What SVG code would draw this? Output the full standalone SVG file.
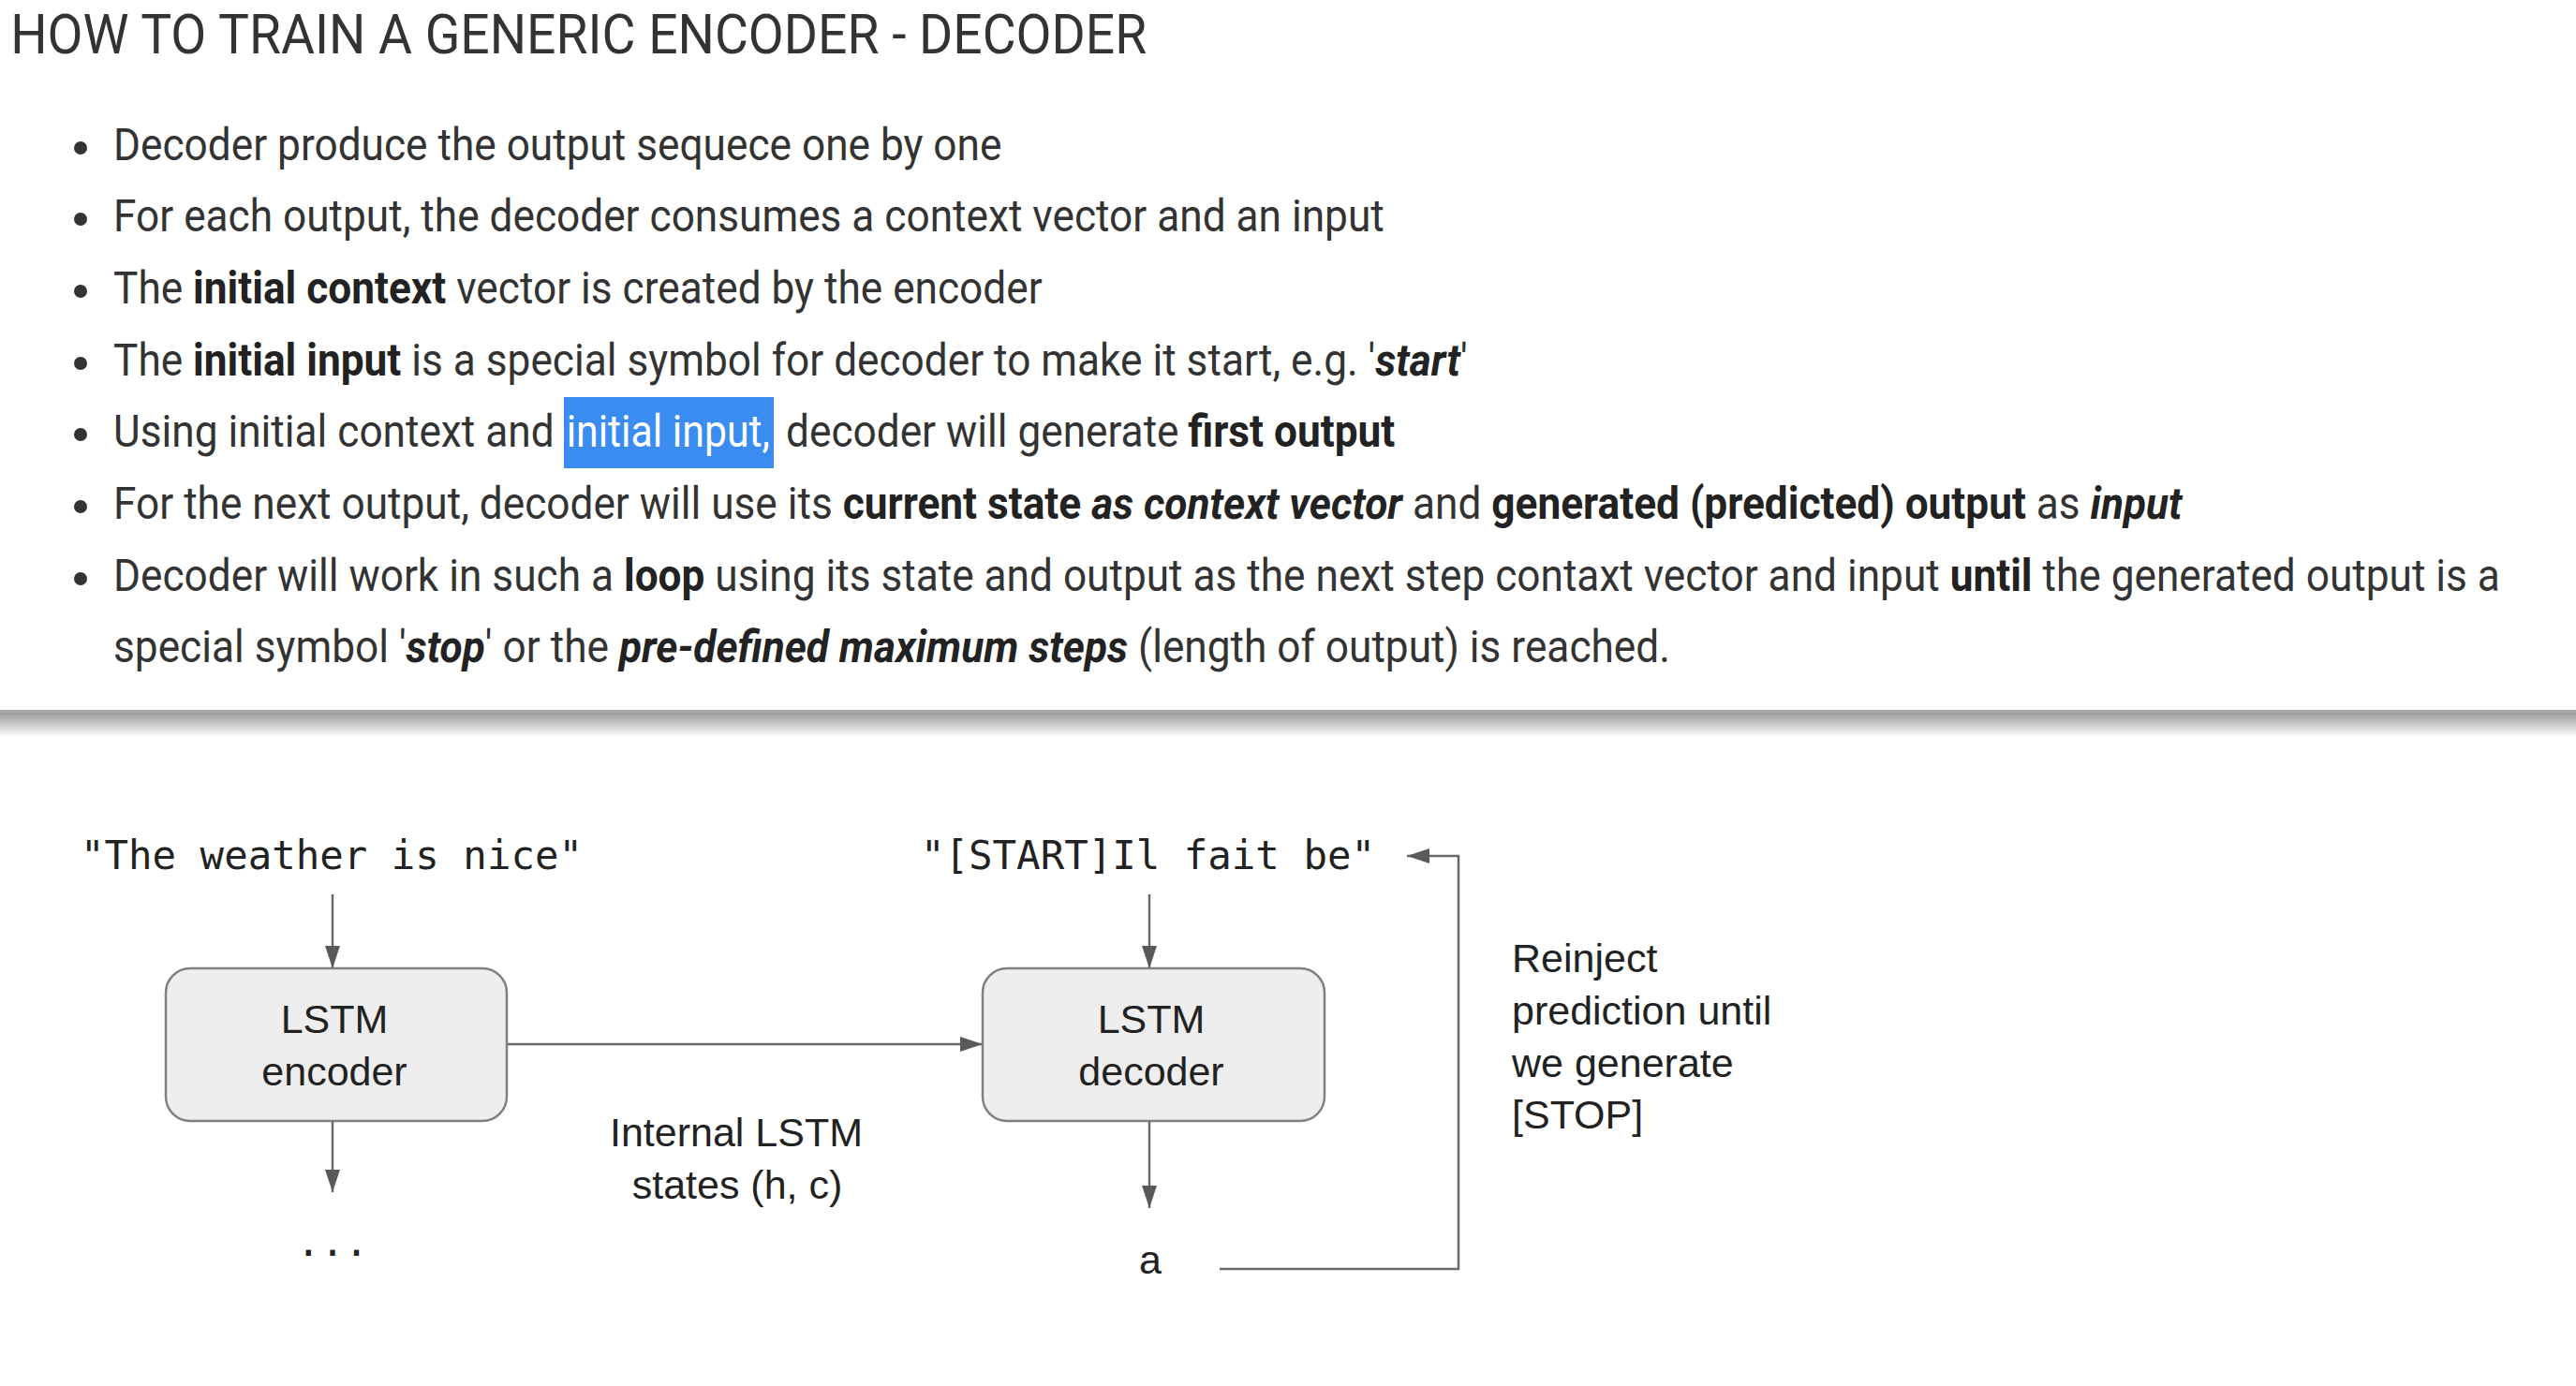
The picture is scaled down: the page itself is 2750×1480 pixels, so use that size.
<svg xmlns="http://www.w3.org/2000/svg" width="2750" height="1480" viewBox="0 0 2750 1480">
  <defs>
    <style>
      .t { font-family: Roboto, "Liberation Sans", sans-serif; font-size: 48px; fill: #333333; }
      .b { font-weight: bold; fill: #222222; }
      .bi { font-weight: bold; font-style: italic; fill: #222222; }
      .title { font-family: Roboto, "Liberation Sans", sans-serif; font-size: 59px; fill: #333333; }
      .lbl { font-family: "Liberation Sans", Arial, sans-serif; font-size: 43px; fill: #222222; }
      .mono { font-family: "DejaVu Sans Mono", "Liberation Mono", monospace; font-size: 42.5px; fill: #222222; }
      .box { fill: #eeeeee; stroke: #808080; stroke-width: 2.5; }
      .conn { fill: none; stroke: #6a6a6a; stroke-width: 2.5; }
      .dot { fill: #333333; }
    </style>
    <marker id="arr" markerUnits="userSpaceOnUse" markerWidth="24" markerHeight="16" refX="24" refY="8" orient="auto">
      <path d="M0,0 L24,8 L0,16 z" fill="#5a5a5a"/>
    </marker>
    <linearGradient id="shadow" x1="0" y1="0" x2="0" y2="1">
      <stop offset="0" stop-color="#9a9a9a"/>
      <stop offset="0.35" stop-color="#bdbdbd"/>
      <stop offset="1" stop-color="#ffffff"/>
    </linearGradient>
  </defs>

  <rect x="0" y="0" width="2750" height="1480" fill="#ffffff"/>

  <!-- Slide text (screenshot is horizontally condensed, hence scale ~0.92) -->
  <g id="title" transform="scale(0.936,1)">
    <text class="title" x="12" y="57">HOW TO TRAIN A GENERIC ENCODER - DECODER</text>
  </g>

  <g id="bullet-dots">
    <circle class="dot" cx="86" cy="158" r="7"/>
    <circle class="dot" cx="86" cy="234" r="7"/>
    <circle class="dot" cx="86" cy="311" r="7"/>
    <circle class="dot" cx="86" cy="388" r="7"/>
    <circle class="dot" cx="86" cy="464" r="7"/>
    <circle class="dot" cx="86" cy="541" r="7"/>
    <circle class="dot" cx="86" cy="618" r="7"/>
  </g>

  <rect id="highlight" x="602" y="424" width="224" height="76" fill="#3a8cf0"/>

  <g id="bullets" transform="scale(0.921,1)">
    <text class="t" x="131.4" y="171">Decoder produce the output sequece one by one</text>
    <text class="t" x="131.4" y="247">For each output, the decoder consumes a context vector and an input</text>
    <text class="t" x="131.4" y="324">The <tspan class="b">initial context</tspan> vector is created by the encoder</text>
    <text class="t" x="131.4" y="401">The <tspan class="b">initial input</tspan> is a special symbol for decoder to make it start, e.g. '<tspan class="bi">start</tspan>'</text>
    <text class="t" y="477"><tspan x="131.4">Using initial context and</tspan><tspan x="656.5" fill="#ffffff" textLength="236" lengthAdjust="spacingAndGlyphs">initial input,</tspan><tspan x="911">decoder will generate</tspan><tspan x="1377" class="b">first output</tspan></text>
    <text class="t" x="131.4" y="554">For the next output, decoder will use its <tspan class="b">current state </tspan><tspan class="bi">as context vector</tspan> and <tspan class="b">generated (predicted) output</tspan> as <tspan class="bi">input</tspan></text>
    <text class="t" x="131.4" y="631">Decoder will work in such a <tspan class="b">loop</tspan> using its state and output as the next step contaxt vector and input <tspan class="b">until</tspan> the generated output is a</text>
    <text class="t" x="131.4" y="707">special symbol '<tspan class="bi">stop</tspan>' or the <tspan class="bi">pre-defined maximum steps</tspan> (length of output) is reached.</text>
  </g>

  <!-- separator shadow -->
  <rect x="0" y="758" width="2750" height="3" fill="#a8a8a8"/>
  <rect x="0" y="761" width="2750" height="26" fill="url(#shadow)"/>

  <!-- Diagram -->
  <g id="connectors">
    <line class="conn" x1="355" y1="955" x2="355" y2="1034" marker-end="url(#arr)"/>
    <line class="conn" x1="355" y1="1197" x2="355" y2="1273" marker-end="url(#arr)"/>
    <line class="conn" x1="541" y1="1115" x2="1049" y2="1115" marker-end="url(#arr)"/>
    <line class="conn" x1="1227" y1="955" x2="1227" y2="1034" marker-end="url(#arr)"/>
    <line class="conn" x1="1227" y1="1197" x2="1227" y2="1290" marker-end="url(#arr)"/>
    <polyline class="conn" points="1302,1355 1557,1355 1557,914 1502,914" marker-end="url(#arr)"/>
  </g>

  <g id="enc-input">
    <text class="mono" x="86" y="928" textLength="536" lengthAdjust="spacingAndGlyphs">"The weather is nice"</text>
  </g>

  <g id="dec-input">
    <text class="mono" x="983" y="928" textLength="485" lengthAdjust="spacingAndGlyphs">"[START]Il fait be"</text>
  </g>

  <g id="encoder">
    <rect class="box" x="177" y="1034" width="364" height="163" rx="26" ry="26"/>
    <text class="lbl" x="357" y="1103" text-anchor="middle">LSTM</text>
    <text class="lbl" x="357" y="1159" text-anchor="middle">encoder</text>
  </g>

  <g id="decoder">
    <rect class="box" x="1049" y="1034" width="365" height="163" rx="26" ry="26"/>
    <text class="lbl" x="1229" y="1103" text-anchor="middle">LSTM</text>
    <text class="lbl" x="1229" y="1159" text-anchor="middle">decoder</text>
  </g>

  <g id="enc-output">
    <text class="mono" x="355" y="1341" text-anchor="middle">...</text>
  </g>

  <g id="dec-output">
    <text class="lbl" x="1228" y="1360" text-anchor="middle">a</text>
  </g>

  <g id="states-label">
    <text class="lbl" x="786" y="1224" text-anchor="middle">Internal LSTM</text>
    <text class="lbl" x="787" y="1280" text-anchor="middle">states (h, c)</text>
  </g>

  <g id="reinject-label">
    <text class="lbl" x="1614" y="1038">Reinject</text>
    <text class="lbl" x="1614" y="1094">prediction until</text>
    <text class="lbl" x="1614" y="1150">we generate</text>
    <text class="lbl" x="1614" y="1205">[STOP]</text>
  </g>
</svg>
